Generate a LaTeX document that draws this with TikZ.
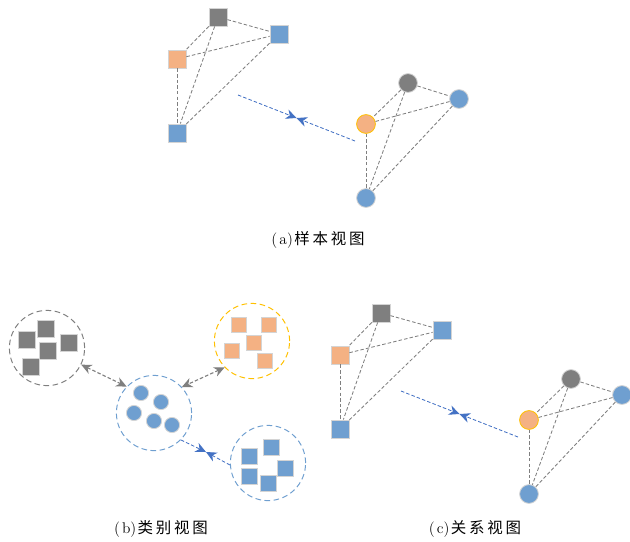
\documentclass[tikz,border=0pt]{standalone}
\usepackage{fontspec}
\newfontfamily\cjk[LetterSpace=18]{Noto Sans CJK SC}
\usetikzlibrary{arrows.meta}

\definecolor{ngray}{HTML}{7F7F7F}
\definecolor{nblue}{HTML}{6F9FD0}
\definecolor{norange}{HTML}{F4B183}
\definecolor{ngold}{HTML}{FFC000}
\definecolor{aroblue}{HTML}{4472C4}
\definecolor{rimgray}{HTML}{D4D4D4}

% one sample graph: four squares, four circles and the link between them
\newcommand{\viewpair}[1]{%
    \node[sq, fill=ngray]   (#1gs) at (218,17)  {};
    \node[sq, fill=nblue]   (#1bs) at (279,34)  {};
    \node[sq, fill=norange] (#1os) at (177,59)  {};
    \node[sq, fill=nblue]   (#1ls) at (177,133) {};
    \draw[link] (#1gs) -- (#1bs);
    \draw[link] (#1gs) -- (#1os);
    \draw[link] (#1gs) -- (#1ls);
    \draw[link] (#1os) -- (#1bs);
    \draw[link] (#1os) -- (#1ls);
    \draw[link] (#1bs) -- (#1ls);

    \node[dot, fill=ngray]   (#1gc) at (408,83)  {};
    \node[dot, fill=nblue]   (#1bc) at (459,99)  {};
    \node[dot, fill=norange, draw=ngold] (#1oc) at (366,124) {};
    \node[dot, fill=nblue]   (#1lc) at (366,198) {};
    \draw[link] (#1gc) -- (#1bc);
    \draw[link] (#1gc) -- (#1oc);
    \draw[link] (#1gc) -- (#1lc);
    \draw[link] (#1oc) -- (#1bc);
    \draw[link] (#1oc) -- (#1lc);
    \draw[link] (#1bc) -- (#1lc);

    \coordinate (#1from) at (238,95);
    \coordinate (#1to)   at (355,141);
    \coordinate (#1mid)  at (296.5,118);
    \draw[bluelink, ->] (#1from) -- (#1mid);
    \draw[bluelink, ->] (#1to) -- (#1mid);
}

% caption tag such as (a), set a little wider
\newcommand{\tagof}[1]{(\hspace{1.5pt}#1)\hspace{1pt}}

\begin{document}
\begin{tikzpicture}[x=0.025cm, y=-0.025cm, >={Stealth[length=7.5pt,width=7pt]},
    sq/.style={rectangle, draw=rimgray, line width=0.6pt, minimum size=0.45cm, inner sep=0pt},
    dot/.style={circle, draw=rimgray, line width=0.6pt, minimum size=0.47cm, inner sep=0pt},
    msq/.style={sq, minimum size=0.41cm},
    mdot/.style={dot, minimum size=0.38cm},
    link/.style={draw=ngray, line width=0.6pt, dash pattern=on 2.5pt off 1.5pt},
    bluelink/.style={draw=aroblue, line width=0.6pt, dash pattern=on 2.5pt off 1.5pt},
    graylink/.style={draw=ngray, line width=0.8pt, dash pattern=on 2.5pt off 1.5pt},
    cluster/.style={circle, line width=0.7pt, dash pattern=on 4pt off 2.5pt, minimum size=1.88cm, inner sep=0pt},
    caption/.style={font=\fontsize{11}{13}\selectfont}]
    \useasboundingbox (0,0) rectangle (630,541);

    % (a) sample view
    \viewpair{a}
    \node[caption] (capa) at (318,240) {\tagof{a}{\cjk 样本视图}};

    % (b) category view
    \node[cluster, draw=ngray]  (gcl) at (47,348)  {};
    \node[cluster, draw=ngold]  (ocl) at (252,341) {};
    \node[cluster, draw=nblue]  (bcl) at (154,413) {};
    \node[cluster, draw=nblue]  (qcl) at (268,463) {};
    \foreach \p [count=\i] in {(46,329),(27,340),(69,343),(48,351),(31,367)}
        \node[msq, fill=ngray] (g\i) at \p {};
    \foreach \p [count=\i] in {(239,325),(269,325),(254,343),(232,351),(265,361)}
        \node[msq, minimum size=0.38cm, fill=norange] (o\i) at \p {};
    \foreach \p [count=\i] in {(141,393),(161,402),(134,413),(154,421),(172,425)}
        \node[mdot, fill=nblue] (b\i) at \p {};
    \foreach \p [count=\i] in {(271,447),(249,456),(285,468),(249,476),(268,483)}
        \node[msq, minimum size=0.4cm, fill=nblue] (q\i) at \p {};

    \draw[graylink, <->] (gcl.-26) -- (bcl.136);
    \draw[graylink, <->] (ocl.-136) -- (bcl.43);
    \coordinate (bmid) at (206,452);
    \draw[bluelink, ->] (bcl.-45) -- (bmid);
    \draw[bluelink, ->] (qcl.183) -- (bmid);
    \node[caption] (capb) at (161,529) {\tagof{b}{\cjk 类别视图}};

    % (c) relation view
    \begin{scope}[shift={(163,296)}]
        \viewpair{c}
    \end{scope}
    \node[caption] (capc) at (475,529) {\tagof{c}{\cjk 关系视图}};
\end{tikzpicture}
\end{document}
